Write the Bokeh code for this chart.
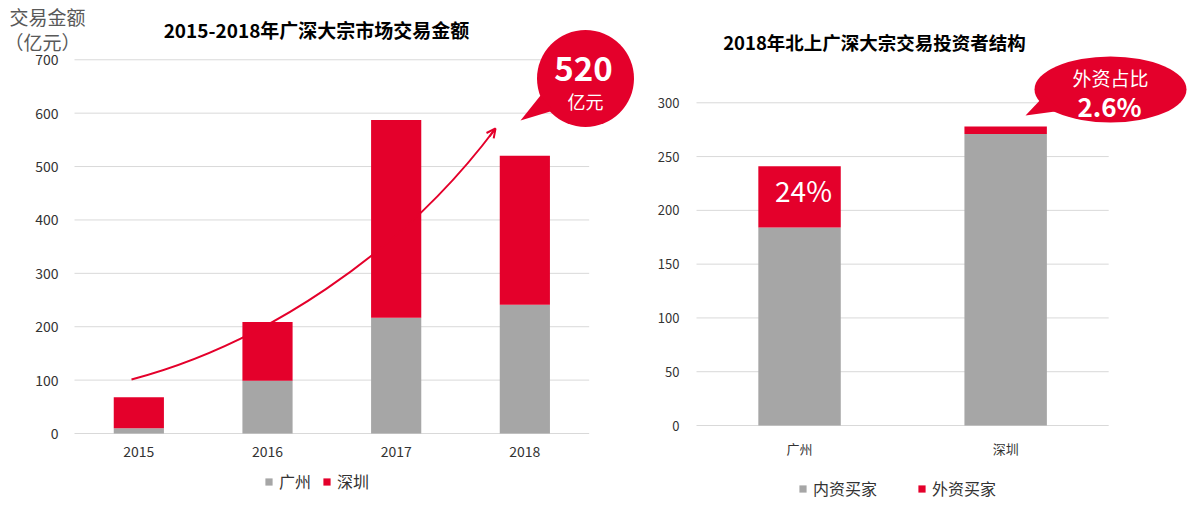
from bokeh.plotting import figure
from bokeh.layouts import row
from bokeh.models import (Range1d, FixedTicker, Legend, LegendItem, Label,
                          Arrow, OpenHead, ColumnDataSource)
from bokeh.embed import file_html
from bokeh.resources import INLINE

# ---------------- data ----------------
years = ["2015", "2016", "2017", "2018"]
guangzhou_amt = [10, 99, 217, 241]     # 广州 (亿元)
shenzhen_amt = [58, 110, 370, 279]     # 深圳 (亿元)
amount_ticks = [0, 100, 200, 300, 400, 500, 600, 700]

cities = ["广州", "深圳"]
domestic_buyers = [184, 271]           # 内资买家
foreign_buyers = [57, 7]               # 外资买家
struct_ticks = [0, 50, 100, 150, 200, 250, 300]

RED = "#e4002b"
GRAY = "#a6a6a6"
GRID = "#d9d9d9"
TXT = "#333333"
FONT = "Noto Sans CJK SC"

H = 510
W1, W2 = 645, 548

# ---- layout helpers: page position -> data coordinates ----
L_X0, L_KX = 74.0, 128.67      # px of x=0, px per category (left chart)
L_Y0, L_KY = 433.0, 0.5339     # px of y=0, px per unit
R_OFF = W1
R_X0, R_KX = 696.0, 206.1
R_Y0, R_KY = 425.0, 1.0757


def L(px, py):
    return (px - L_X0) / L_KX, (L_Y0 - py) / L_KY


def R(px, py):
    return (px - R_X0) / R_KX, (R_Y0 - py) / R_KY


def make_fig(width, xr, yr):
    p = figure(width=width, height=H, output_backend="svg", toolbar_location=None,
               x_range=Range1d(*xr), y_range=Range1d(*yr),
               min_border=0, min_border_left=0, min_border_right=0,
               min_border_top=0, min_border_bottom=0)
    p.title.visible = False
    p.outline_line_color = None
    p.grid.visible = False
    return p


def style_axes(p, ticks_y, ticks_x, labels_x, size, ystand, xstand):
    ya = p.yaxis[0]
    xa = p.xaxis[0]
    ya.ticker = FixedTicker(ticks=ticks_y)
    ya.fixed_location = 0
    xa.ticker = FixedTicker(ticks=ticks_x)
    xa.fixed_location = 0
    xa.major_label_overrides = {x: s for x, s in zip(ticks_x, labels_x)}
    for ax in (xa, ya):
        ax.axis_line_color = None
        ax.major_tick_line_color = None
        ax.minor_tick_line_color = None
        ax.major_tick_out = 0
        ax.major_tick_in = 0
        ax.major_label_text_color = TXT
        ax.major_label_text_font = FONT
        ax.major_label_text_font_size = size
    ya.major_label_standoff = ystand
    xa.major_label_standoff = xstand


def label(p, pos, text, size, color="white", bold=False):
    p.add_layout(Label(x=pos[0], y=pos[1], text=text, text_color=color, text_font=FONT,
                       text_font_size=size, text_font_style="bold" if bold else "normal",
                       text_align="center", text_baseline="middle"))


# =============== left chart ===============
p1 = make_fig(W1, (L(0, 0)[0], L(W1, 0)[0]), (L(0, H)[1], L(0, 0)[1]))

xs1 = [i + 0.5 for i in range(len(years))]
n = len(amount_ticks)
p1.segment(x0=[0] * n, x1=[len(years)] * n, y0=amount_ticks, y1=amount_ticks,
           line_color=GRID, line_width=1)

src1 = ColumnDataSource(dict(x=xs1, gz=guangzhou_amt, sz=shenzhen_amt))
bars1 = p1.vbar_stack(["gz", "sz"], x="x", width=0.39, source=src1,
                      color=[GRAY, RED], line_color=None)

# growth curve with arrow
totals = [g + s for g, s in zip(guangzhou_amt, shenzhen_amt)]
x0, y0 = L(131, 379)
cx0, cy0 = L(260, 345)
cx1, cy1 = L(400, 255)
x1, y1 = L(495, 128)
p1.bezier(x0=[x0], y0=[y0], x1=[x1], y1=[y1], cx0=[cx0], cy0=[cy0],
          cx1=[cx1], cy1=[cy1], line_color=RED, line_width=2)
xa_, ya_ = L(489, 136)
p1.add_layout(Arrow(end=OpenHead(size=9, line_color=RED, line_width=2),
                    x_start=xa_, y_start=ya_, x_end=x1, y_end=y1,
                    line_color=RED, line_width=2))

# bubble "520 亿元"
bx, by = L(585, 78)
p1.scatter(x=[bx], y=[by], size=97, marker="circle", color=RED, line_color=None)
tail = [L(520, 120), L(540, 95), L(553, 110)]
p1.patch(x=[t[0] for t in tail], y=[t[1] for t in tail], color=RED, line_color=None)
label(p1, L(583, 68), f"{totals[-1]}", "33px", bold=True)
label(p1, L(585, 100), "亿元", "18px")

# titles / unit label
label(p1, L(316, 29), "2015-2018年广深大宗市场交易金额", "19px", color="#000000", bold=True)
label(p1, L(47, 16), "交易金额", "19px", color="#595959")
label(p1, L(42, 41), "（亿元）", "19px", color="#595959")

style_axes(p1, amount_ticks, xs1, years, "14px", 16, 12)

leg1 = Legend(items=[LegendItem(label="广州", renderers=[bars1[0]]),
                     LegendItem(label="深圳", renderers=[bars1[1]])],
              orientation="horizontal", location=(264, H - 473 - 20), margin=0, padding=0,
              glyph_width=9, glyph_height=9, label_standoff=6, spacing=11,
              label_text_font=FONT, label_text_font_size="16px", label_text_color=TXT,
              border_line_color=None, background_fill_alpha=0)
p1.add_layout(leg1)

# =============== right chart ===============
p2 = make_fig(W2, (R(R_OFF, 0)[0], R(R_OFF + W2, 0)[0]), (R(0, H)[1], R(0, 0)[1]))

xs2 = [i + 0.5 for i in range(len(cities))]
m = len(struct_ticks)
p2.segment(x0=[0] * m, x1=[len(cities)] * m, y0=struct_ticks, y1=struct_ticks,
           line_color=GRID, line_width=1)
src2 = ColumnDataSource(dict(x=xs2, dom=domestic_buyers, fgn=foreign_buyers))
bars2 = p2.vbar_stack(["dom", "fgn"], x="x", width=0.4, source=src2,
                      color=[GRAY, RED], line_color=None)

share_gz = round(100 * foreign_buyers[0] / (domestic_buyers[0] + foreign_buyers[0]))
label(p2, R(803, 189), f"{share_gz}%", "28px")

# bubble "外资占比 2.6%"
ex, ey = R(1110, 89)
p2.ellipse(x=[ex], y=[ey], width=[152 / R_KX], height=[66 / R_KY], color=RED, line_color=None)
tail2 = [R(1025, 115), R(1044, 95), R(1062, 110)]
p2.patch(x=[t[0] for t in tail2], y=[t[1] for t in tail2], color=RED, line_color=None)
label(p2, R(1110, 77), "外资占比", "19px")
label(p2, R(1109, 105), "2.6%", "26px", bold=True)

label(p2, R(874, 41), "2018年北上广深大宗交易投资者结构", "18.5px", color="#000000", bold=True)

style_axes(p2, struct_ticks, xs2, cities, "13px", 17, 13)

leg2 = Legend(items=[LegendItem(label="内资买家", renderers=[bars2[0]]),
                     LegendItem(label="外资买家", renderers=[bars2[1]])],
              orientation="horizontal", location=(798 - R_OFF, H - 480 - 20), margin=0, padding=0,
              glyph_width=9, glyph_height=9, label_standoff=6, spacing=40,
              label_text_font=FONT, label_text_font_size="16px", label_text_color=TXT,
              border_line_color=None, background_fill_alpha=0)
p2.add_layout(leg2)

layout = row(p1, p2)
open("out.html", "w").write(file_html(layout, INLINE))
